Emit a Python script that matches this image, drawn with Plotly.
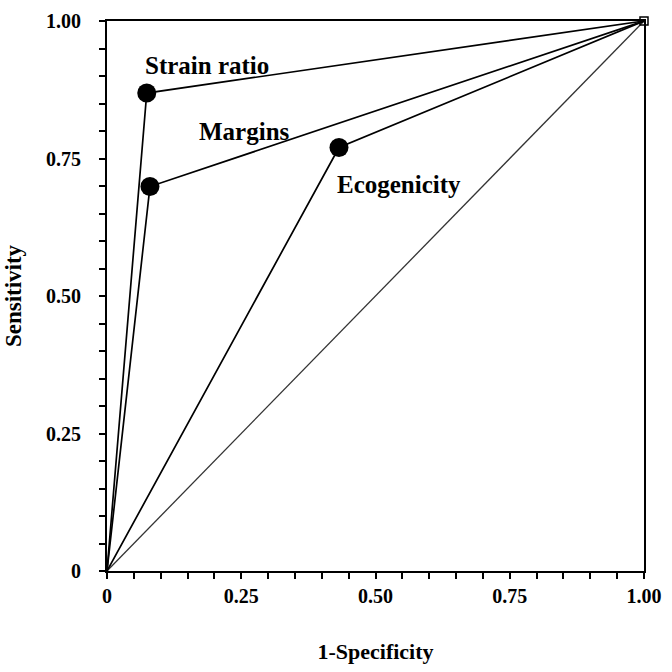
import plotly.graph_objects as go

# Data
series_names = ["Strain ratio", "Margins", "Ecogenicity"]
fpr_points = [0.074, 0.080, 0.432]
tpr_points = [0.869, 0.699, 0.770]
label_x = [0.186, 0.256, 0.543]
label_y = [0.920, 0.799, 0.702]
tick_vals = [round(i * 0.05, 2) for i in range(21)]
major_labels = {0.0: "0", 0.25: "0.25", 0.5: "0.50", 0.75: "0.75", 1.0: "1.00"}
tick_text = [major_labels.get(v, "") for v in tick_vals]

font_family = "Liberation Serif"

fig = go.Figure()

# diagonal reference
fig.add_trace(go.Scatter(x=[0, 1], y=[0, 1], mode="lines",
                         line=dict(color="#333333", width=1.3),
                         showlegend=False, hoverinfo="skip"))

for name, fx, ty in zip(series_names, fpr_points, tpr_points):
    fig.add_trace(go.Scatter(x=[0, fx, 1], y=[0, ty, 1], mode="lines",
                             line=dict(color="black", width=1.7),
                             showlegend=False, name=name))
    fig.add_trace(go.Scatter(x=[fx], y=[ty], mode="markers",
                             marker=dict(color="black", size=19),
                             showlegend=False, name=name))

fig.add_trace(go.Scatter(x=[1], y=[1], mode="markers",
                         marker=dict(symbol="square-open", color="black", size=8,
                                     line=dict(width=1.5)),
                         showlegend=False, cliponaxis=False))

for name, lx, ly in zip(series_names, label_x, label_y):
    fig.add_annotation(x=lx, y=ly, text="<b>" + name + "</b>", showarrow=False,
                       font=dict(family=font_family, size=25, color="black"))

axis_common = dict(
    range=[0, 1], tickmode="array", tickvals=tick_vals, ticktext=tick_text,
    ticks="outside", ticklen=6, tickwidth=1.5, tickcolor="black",
    showline=True, linecolor="black", linewidth=2, mirror=True,
    showgrid=False, zeroline=False,
    tickfont=dict(family=font_family, size=20, color="black", weight="bold"),
)

fig.update_xaxes(**axis_common,
                 title=dict(text="<b>1-Specificity</b>", standoff=38,
                            font=dict(family=font_family, size=22, color="black")))
fig.update_yaxes(**axis_common, ticklabelstandoff=14,
                 title=dict(text="<b>Sensitivity</b>", standoff=18,
                            font=dict(family=font_family, size=23, color="black")))

fig.update_layout(
    width=672, height=672,
    margin=dict(l=107, r=27, t=10, b=101),
    plot_bgcolor="white", paper_bgcolor="white",
    showlegend=False,
)

fig.write_html("out.html", config={"displayModeBar": False})

# remove default browser body margin so the figure sits at the page origin
with open("out.html", "r", encoding="utf-8") as f:
    html = f.read()
html = html.replace("<head>", "<head><style>html,body{margin:0;padding:0;overflow:hidden;}</style>", 1)
with open("out.html", "w", encoding="utf-8") as f:
    f.write(html)
